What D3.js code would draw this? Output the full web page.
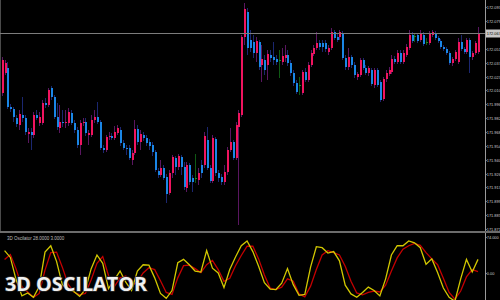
<!DOCTYPE html>
<html><head><meta charset="utf-8">
<script src="https://cdn.jsdelivr.net/npm/d3@7"></script>
<style>html,body{margin:0;padding:0;background:#000;overflow:hidden}svg{display:block}</style>
</head><body><svg id="c" width="500" height="300"></svg>
<script>
// ---- DATA ----
const open=[172.007,172.027,172.032,171.993,171.991,171.982,171.975,171.985,171.982,171.966,
171.968,171.965,171.985,171.977,171.977,171.997,171.995,172.012,172.003,171.983,
171.972,171.978,171.977,171.977,171.987,171.977,171.970,171.955,171.977,171.978,
171.965,171.965,171.980,171.983,171.978,171.952,171.950,171.963,171.964,171.962,
171.967,171.970,171.957,171.952,171.952,171.940,171.947,171.971,171.958,171.965,
171.962,171.958,171.955,171.948,171.929,171.925,171.932,171.923,171.907,171.927,
171.942,171.933,171.943,171.933,171.912,171.935,171.922,171.922,171.920,171.935,
171.935,171.960,171.932,171.919,171.961,171.927,171.923,171.918,171.928,171.950,
171.958,171.942,171.973,171.985,172.063,172.088,172.060,172.058,172.047,172.058,
172.035,172.040,172.035,172.045,172.043,172.041,172.040,172.038,172.042,172.045,
172.037,172.027,172.017,172.015,172.007,172.028,172.020,172.035,172.046,172.052,
172.057,172.057,172.057,172.048,172.052,172.068,172.063,172.063,172.067,172.042,
172.033,172.043,172.035,172.023,172.025,172.040,172.032,172.027,172.030,172.015,
172.030,172.018,172.001,172.021,172.026,172.028,172.041,172.038,172.047,172.038,
172.045,172.052,172.065,172.064,172.065,172.060,172.065,172.058,172.057,172.065,
172.067,172.062,172.059,172.053,172.051,172.047,172.037,172.041,172.038,172.058,
172.051,172.048,172.060,172.043,172.047,172.048];
const high=[172.043,172.040,172.038,171.996,171.993,171.985,171.990,172.003,171.985,171.972,
171.972,171.988,171.990,171.988,172.000,172.002,172.012,172.014,172.005,171.997,
171.995,171.990,171.990,171.992,171.990,171.980,171.973,171.980,171.982,171.982,
171.970,171.985,171.990,171.998,171.980,171.955,171.965,171.968,171.967,171.974,
171.975,171.973,171.960,171.955,171.955,171.950,171.980,171.975,171.970,171.968,
171.965,171.961,171.958,171.950,171.932,171.940,171.935,171.926,171.930,171.945,
171.944,171.946,171.945,171.938,171.938,171.937,171.925,171.946,171.932,171.940,
171.968,171.973,171.935,171.965,171.963,171.930,171.926,171.935,171.953,171.972,
171.960,171.978,171.990,172.065,172.097,172.092,172.070,172.065,172.063,172.060,
172.055,172.045,172.050,172.050,172.058,172.045,172.050,172.052,172.055,172.050,
172.040,172.030,172.020,172.023,172.030,172.032,172.038,172.050,172.055,172.068,
172.060,172.060,172.060,172.055,172.072,172.070,172.066,172.070,172.069,172.045,
172.052,172.045,172.038,172.028,172.042,172.042,172.035,172.034,172.032,172.032,
172.032,172.020,172.023,172.030,172.033,172.045,172.044,172.050,172.050,172.050,
172.056,172.070,172.068,172.067,172.067,172.070,172.068,172.062,172.069,172.070,
172.069,172.064,172.061,172.055,172.053,172.049,172.043,172.050,172.062,172.065,
172.053,172.062,172.062,172.049,172.059,172.073];
const low=[172.004,172.025,171.991,171.988,171.978,171.973,171.970,171.978,171.965,171.957,
171.950,171.962,171.980,171.974,171.975,171.992,171.993,172.000,171.981,171.970,
171.967,171.973,171.972,171.974,171.975,171.967,171.952,171.945,171.974,171.964,
171.955,171.963,171.977,171.976,171.950,171.947,171.948,171.960,171.960,171.960,
171.965,171.954,171.950,171.945,171.940,171.935,171.945,171.955,171.950,171.959,
171.954,171.950,171.944,171.928,171.922,171.923,171.920,171.897,171.905,171.922,
171.925,171.930,171.925,171.910,171.908,171.915,171.908,171.917,171.915,171.922,
171.932,171.930,171.917,171.917,171.924,171.918,171.915,171.915,171.925,171.948,
171.940,171.940,171.875,171.983,172.055,172.045,172.048,172.042,172.038,172.030,
172.018,172.025,172.020,172.038,172.035,172.035,172.022,172.035,172.038,172.034,
172.024,172.014,172.006,172.005,172.005,172.018,172.018,172.033,172.044,172.050,
172.050,172.048,172.048,172.045,172.050,172.060,172.058,172.060,172.040,172.030,
172.030,172.032,172.022,172.020,172.023,172.030,172.025,172.024,172.014,172.012,
172.013,171.998,171.999,172.018,172.024,172.026,172.036,172.036,172.036,172.036,
172.043,172.050,172.057,172.058,172.057,172.058,172.054,172.055,172.055,172.063,
172.060,172.057,172.051,172.049,172.045,172.035,172.034,172.039,172.036,172.049,
172.046,172.046,172.027,172.040,172.045,172.046];
const close=[172.040,172.037,171.993,171.991,171.983,171.976,171.986,171.982,171.968,171.968,
171.965,171.985,171.982,171.983,171.997,171.995,172.010,172.003,171.983,171.973,
171.978,171.977,171.978,171.988,171.977,171.970,171.955,171.977,171.978,171.967,
171.967,171.980,171.983,171.978,171.952,171.950,171.963,171.964,171.962,171.968,
171.972,171.957,171.952,171.951,171.942,171.947,171.971,171.958,171.966,171.962,
171.957,171.954,171.948,171.930,171.925,171.932,171.922,171.906,171.927,171.943,
171.933,171.944,171.933,171.913,171.935,171.918,171.918,171.922,171.927,171.927,
171.964,171.932,171.919,171.962,171.927,171.922,171.918,171.928,171.950,171.958,
171.942,171.975,171.987,172.063,172.091,172.052,172.052,172.047,172.059,172.033,
172.041,172.030,172.046,172.042,172.040,172.038,172.040,172.044,172.045,172.037,
172.027,172.017,172.008,172.015,172.028,172.020,172.035,172.047,172.052,172.057,
172.053,172.053,172.051,172.052,172.068,172.062,172.060,172.068,172.042,172.033,
172.043,172.035,172.025,172.026,172.040,172.032,172.027,172.032,172.016,172.030,
172.015,172.000,172.021,172.027,172.030,172.041,172.038,172.047,172.038,172.047,
172.053,172.065,172.059,172.064,172.059,172.067,172.056,172.058,172.067,172.068,
172.062,172.059,172.053,172.051,172.047,172.037,172.041,172.048,172.058,172.051,
172.048,172.060,172.043,172.047,172.057,172.067];
const priceTicks=[172.093,172.079,172.065,172.051,172.037,172.023,172.010,171.996,171.982,
171.968,171.954,171.940,171.926,171.913,171.899,171.885,171.871];
// oscillator, one value every second bar (bars 1,3,5,...)
const oscFast=[46,32,-14,-47,-41,-50,-28,43,56,24,
-24,-34,-38,-48,-34,9,37,20,-32,-14,
4,-19,-36,4,17,16,-10,-42,-52,-36,
21,28,17,4,2,46,10,0,-30,7,
33,56,66,44,14,-20,-33,-34,-21,9,
-24,-46,-44,12,54,52,41,44,25,-25,
-43,-50,-40,-29,-36,-47,-12,37,56,56,
66,62,52,18,29,1,-31,-50,-58,-12,
28,2,28];
const oscSlow=[28,38,8,-28,-39,-50,-42,6,42,43,
12,-23,-39,-45,-42,-14,20,34,-5,-28,
-10,-6,-27,-18,0,11,7,-16,-40,-44,
-10,15,16,9,1,17,26,7,-17,-11,
15,36,55,55,29,-4,-31,-34,-29,-12,
-17,-43,-49,-27,7,37,46,42,37,14,
-17,-41,-45,-40,-37,-39,-25,4,31,49,
56,61,57,42,29,17,-11,-40,-54,-37,
-8,7,3];
const oscTicks=[74,0];
const oscName="3D Oscilator";
const chartTitle="3D OSCILATOR";

// ---- DRAW ----
const W=500,H=300,axisX=485.5,mainBottom=231,oscTop=233;
const FONT='Liberation Sans, Arial, sans-serif';
const NARROW='Liberation Sans Narrow, Liberation Sans, Arial, sans-serif';
const svg=d3.select('#c');
svg.append('rect').attr('width',W).attr('height',H).attr('fill','#000');
const n=close.length;
const x=d3.scaleLinear().domain([0,n-1]).range([1.7,478]);
const y=d3.scaleLinear().domain([172.100,171.869]).range([0,231]);
const yo=d3.scaleLinear().domain([0,74]).range([273,237]);

const defs=svg.append('defs');
defs.append('clipPath').attr('id','cm').append('rect').attr('x',0).attr('y',0).attr('width',axisX).attr('height',mainBottom);
defs.append('clipPath').attr('id','co').append('rect').attr('x',0).attr('y',oscTop+1).attr('width',axisX).attr('height',H-oscTop);

svg.append('line').attr('x1',0.5).attr('x2',0.5).attr('y1',0).attr('y2',mainBottom).attr('stroke','#4a4a4a');

const gm=svg.append('g').attr('clip-path','url(#cm)');
const bars=d3.range(n);
const col=i=>close[i]>open[i]?'#f0145f':(close[i]<open[i]?'#1a86e6':'#1f8a1f');
const wcol=i=>close[i]>open[i]?'#5a1660':(close[i]<open[i]?'#1b2770':'#0f5a14');
gm.selectAll('line.w').data(bars).join('line').attr('class','w')
  .attr('x1',i=>Math.round(x(i))+0.5).attr('x2',i=>Math.round(x(i))+0.5)
  .attr('y1',i=>y(high[i])).attr('y2',i=>y(low[i]))
  .attr('stroke',wcol).attr('stroke-width',1);
gm.selectAll('rect.b').data(bars).join('rect').attr('class','b')
  .attr('x',i=>Math.round(x(i)))
  .attr('width',2)
  .attr('y',i=>y(Math.max(open[i],close[i])))
  .attr('height',i=>Math.max(1,Math.abs(y(open[i])-y(close[i]))))
  .attr('fill',col);

const cp=close[n-1];
const cy=Math.round(y(cp))+0.5;
svg.append('line').attr('x1',0).attr('x2',axisX).attr('y1',cy).attr('y2',cy).attr('stroke','#7c7c7c').attr('stroke-width',1);

function styleAxis(g){
  g.select('.domain').remove();
  g.selectAll('line').attr('stroke','#999');
  g.selectAll('text').attr('fill','#cfcfcf').attr('font-size',3.9).attr('font-family',NARROW)
   .attr('x',1.3);
}
const visTicks=priceTicks.filter(t=>Math.abs(y(t)-cy)>5);
const ax=svg.append('g').attr('transform',`translate(${axisX},0)`)
  .call(d3.axisRight(y).tickValues(visTicks).tickSize(1.2).tickFormat(d3.format('.3f')));
styleAxis(ax);
svg.append('line').attr('x1',axisX).attr('x2',axisX).attr('y1',0).attr('y2',H).attr('stroke','#9a9a9a');

svg.append('rect').attr('x',axisX+0.5).attr('y',cy-4).attr('width',W-axisX).attr('height',8).attr('fill','#c8c8c8');
svg.append('text').attr('x',axisX+1.3).attr('y',cy+1.4).attr('font-size',3.9).attr('font-family',NARROW).attr('fill','#000')
  .text(d3.format('.3f')(cp));

svg.append('rect').attr('x',0).attr('y',mainBottom).attr('width',W).attr('height',2).attr('fill','#6c6c6c');

const go=svg.append('g').attr('clip-path','url(#co)');
const ln=d3.line().x((d,k)=>x(2*k+1)).y(d=>yo(d));
go.append('path').datum(oscSlow).attr('d',ln).attr('fill','none').attr('stroke','#c40000').attr('stroke-width',1.3);
go.append('path').datum(oscFast).attr('d',ln).attr('fill','none').attr('stroke','#d2c800').attr('stroke-width',1.3);

const ao=svg.append('g').attr('transform',`translate(${axisX},0)`)
  .call(d3.axisRight(yo).tickValues(oscTicks).tickSize(1.2).tickFormat((d,i)=>i===0?d3.format('.3f')(d):d3.format('.2f')(d)));
styleAxis(ao);

svg.append('text').attr('x',7).attr('y',240).attr('font-size',4.5).attr('font-family',FONT).attr('fill','#bdbdbd')
  .text(`${oscName} ${d3.format('.4f')(oscFast[oscFast.length-1])} ${d3.format('.4f')(oscSlow[oscSlow.length-1])}`);

svg.append('text').attr('x',5).attr('y',291).attr('font-size',20).attr('font-weight',700)
  .attr('font-family','Open Sans, DejaVu Sans, sans-serif').attr('fill','#f0f0f0')
  .attr('stroke','#2a2a2a').attr('stroke-width',1.4).attr('paint-order','stroke')
  .attr('textLength',142).attr('lengthAdjust','spacingAndGlyphs').text(chartTitle);
</script></body></html>
